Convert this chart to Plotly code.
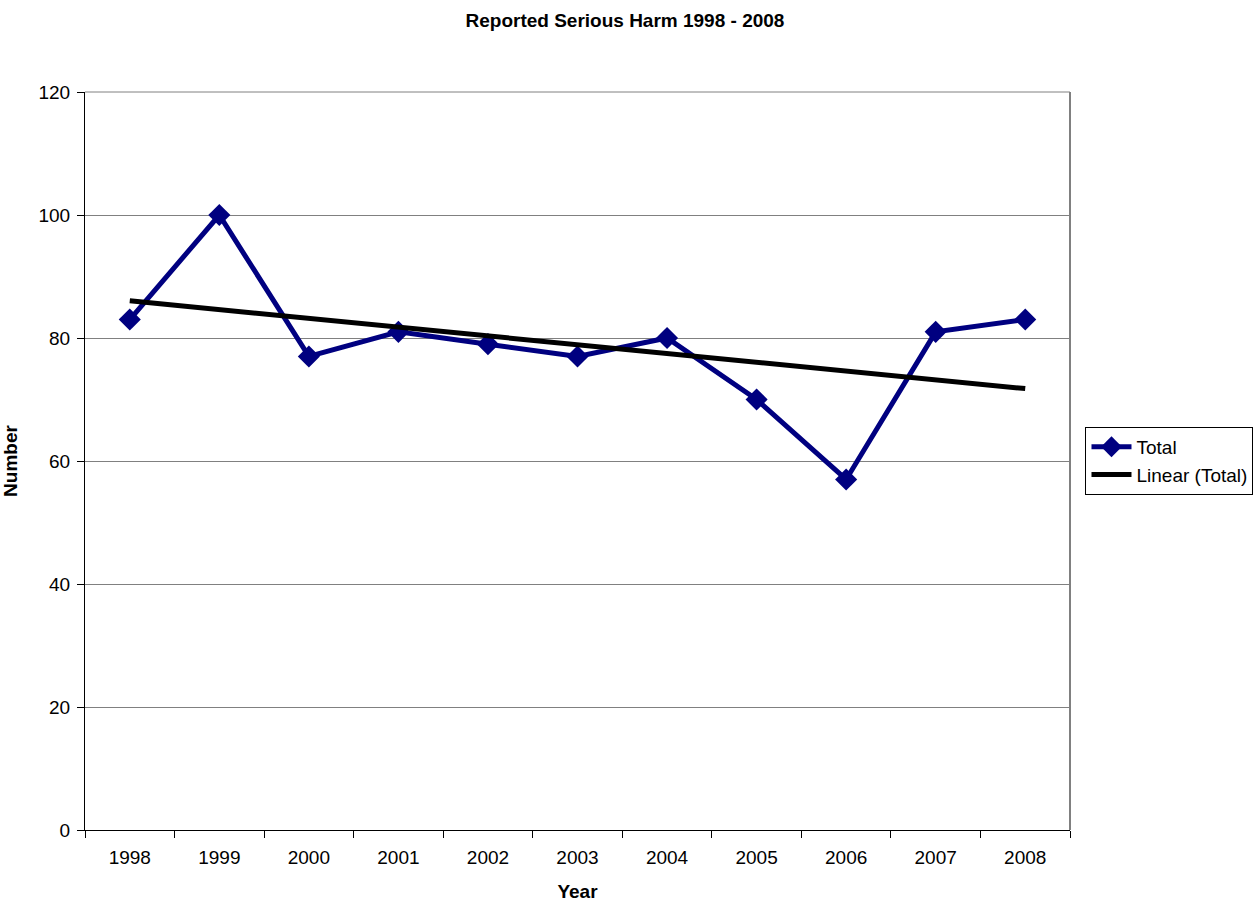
import numpy as np
import plotly.graph_objects as go

years = ["1998", "1999", "2000", "2001", "2002", "2003", "2004", "2005", "2006", "2007", "2008"]
totals = [83, 100, 77, 81, 79, 77, 80, 70, 57, 81, 83]
y_ticks = [0, 20, 40, 60, 80, 100, 120]

# Least-squares linear trend over the yearly totals
idx = np.arange(len(years))
slope, intercept = np.polyfit(idx, totals, 1)
trend = slope * idx + intercept

FONT = "Liberation Sans, Arial, sans-serif"
NAVY = "#000080"

fig = go.Figure()
fig.add_trace(go.Scatter(
    x=years, y=totals, name="Total", mode="lines+markers",
    line=dict(color=NAVY, width=5),
    marker=dict(symbol="diamond", size=17, color=NAVY),
))
fig.add_trace(go.Scatter(
    x=[years[0], years[-1]], y=[trend[0], trend[-1]], name="Linear (Total)", mode="lines",
    line=dict(color="black", width=5),
))

fig.update_layout(
    width=1260, height=902,
    paper_bgcolor="white", plot_bgcolor="white",
    margin=dict(l=85, r=190, t=92, b=72),
    font=dict(family=FONT, size=19, color="black"),
    title=dict(text="<b>Reported Serious Harm 1998 - 2008</b>", x=0.496, xanchor="center",
               y=0.977, yanchor="middle", font=dict(size=19, family=FONT)),
    showlegend=True,
    legend=dict(xref="container", yref="container", x=0.8615, y=0.489,
                xanchor="left", yanchor="middle",
                bordercolor="black", borderwidth=1, bgcolor="white",
                font=dict(size=19), tracegroupgap=0, itemwidth=40),
)
fig.update_xaxes(
    type="category", range=[-0.5, 10.5], tickson="boundaries",
    ticks="outside", ticklen=7, tickcolor="black", tickwidth=1,
    showline=True, linecolor="black", linewidth=1, showgrid=False,
    automargin=False, ticklabelstandoff=10,
    title=dict(text="<b>Year</b>", font=dict(size=19), standoff=19),
    tickfont=dict(size=19),
)
fig.update_yaxes(
    range=[0, 120], tickvals=y_ticks,
    ticks="outside", ticklen=7, tickcolor="black", tickwidth=1,
    showline=True, linecolor="black", linewidth=1,
    showgrid=True, gridcolor="#808080", gridwidth=1, zeroline=False,
    automargin=False, ticklabelstandoff=3,
    title=dict(text="<b>Number</b>", font=dict(size=19), standoff=20),
    tickfont=dict(size=19),
)
# grey frame on the top and right edges of the plot area
fig.add_shape(type="line", xref="paper", yref="paper", x0=1, x1=1, y0=0, y1=1,
              line=dict(color="#808080", width=2), layer="below")
fig.add_shape(type="line", xref="paper", yref="paper", x0=0, x1=1, y0=1, y1=1,
              line=dict(color="#808080", width=1), layer="below")

fig.write_html("out.html")
